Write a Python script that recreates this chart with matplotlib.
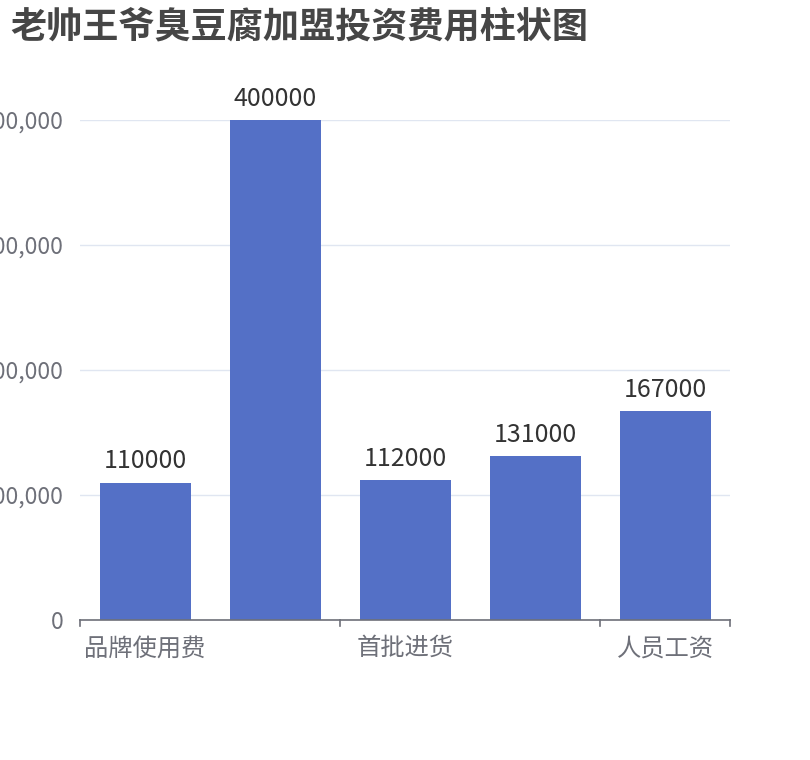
import matplotlib.pyplot as plt
from matplotlib.ticker import FuncFormatter

plt.rcParams['font.family'] = ['Noto Sans CJK SC', 'DejaVu Sans']

title = "老帅王爷臭豆腐加盟投资费用柱状图"
categories = ["品牌使用费", "加盟费", "首批进货", "店面装修", "人员工资"]
values = [110000, 400000, 112000, 131000, 167000]
y_ticks = [0, 100000, 200000, 300000, 400000]

bar_color = "#5470c6"
axis_color = "#6E7079"
grid_color = "#E0E6F1"

fig = plt.figure(figsize=(8.1, 7.6), dpi=100)
ax = fig.add_axes([80 / 810, 140 / 760, 650 / 810, 500 / 760])

x = list(range(len(categories)))
ax.bar(x, values, width=0.7, color=bar_color, zorder=3)

for xi, v in zip(x, values):
    ax.annotate(str(v), (xi, v), xytext=(0, 6), textcoords="offset points",
                ha="center", va="bottom", fontsize=18, color="#333333")

ax.set_xlim(-0.5, len(categories) - 0.5)
ax.set_ylim(0, 400000)

ax.set_yticks(y_ticks)
ax.yaxis.set_major_formatter(FuncFormatter(lambda v, p: f"{int(v):,}"))
ax.tick_params(axis="y", length=0, pad=12, labelsize=16.5, labelcolor=axis_color)
ax.grid(axis="y", color=grid_color, linewidth=1, zorder=0)

# category labels every other bar, ticks on boundaries every second
ax.set_xticks(x[::2])
ax.set_xticklabels(categories[::2])
ax.tick_params(axis="x", length=0, pad=11, labelsize=17.5, labelcolor=axis_color)
for b in [-0.5, 1.5, 3.5, 4.5]:
    ax.plot([b, b], [0, -0.012], transform=ax.get_xaxis_transform(),
            color=axis_color, linewidth=1.2, clip_on=False)

for s in ["top", "right", "left"]:
    ax.spines[s].set_visible(False)
ax.spines["bottom"].set_color(axis_color)
ax.spines["bottom"].set_linewidth(1.2)
ax.spines["bottom"].set_zorder(4)

fig.text(10 / 810, 1 - 27 / 760, title, fontsize=26, fontweight="bold",
         color="#464646", va="center", ha="left")

fig.savefig("out.png", dpi=100)
